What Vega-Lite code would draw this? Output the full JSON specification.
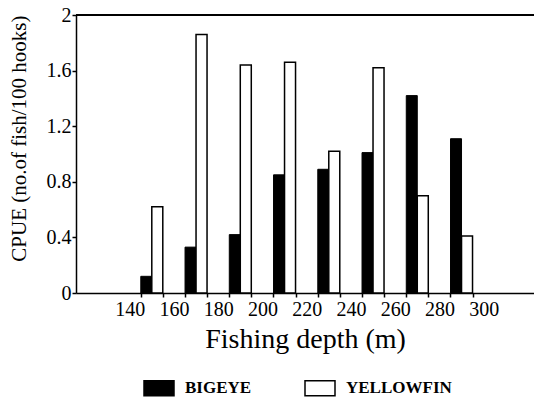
{
  "$schema": "https://vega.github.io/schema/vega-lite/v6.json",
  "width": 458,
  "height": 278,
  "autosize": {"type": "none"},
  "padding": {"left": 76, "top": 15, "right": 0, "bottom": 104},
  "background": "white",
  "config": {
    "view": {"stroke": null},
    "font": "Liberation Serif",
    "axis": {
      "domainColor": "black",
      "domainWidth": 1.5,
      "tickColor": "black",
      "tickWidth": 1.5,
      "grid": false,
      "labelColor": "black",
      "titleColor": "black",
      "labelFont": "Liberation Serif",
      "titleFont": "Liberation Serif",
      "titleFontWeight": "normal"
    }
  },
  "data": {
    "values": [
      {"depth": 150, "species": "BIGEYE", "cpue": 0.12},
      {"depth": 150, "species": "YELLOWFIN", "cpue": 0.62},
      {"depth": 170, "species": "BIGEYE", "cpue": 0.33},
      {"depth": 170, "species": "YELLOWFIN", "cpue": 1.86},
      {"depth": 190, "species": "BIGEYE", "cpue": 0.42},
      {"depth": 190, "species": "YELLOWFIN", "cpue": 1.64},
      {"depth": 210, "species": "BIGEYE", "cpue": 0.85},
      {"depth": 210, "species": "YELLOWFIN", "cpue": 1.66},
      {"depth": 230, "species": "BIGEYE", "cpue": 0.89},
      {"depth": 230, "species": "YELLOWFIN", "cpue": 1.02},
      {"depth": 250, "species": "BIGEYE", "cpue": 1.01},
      {"depth": 250, "species": "YELLOWFIN", "cpue": 1.62},
      {"depth": 270, "species": "BIGEYE", "cpue": 1.42},
      {"depth": 270, "species": "YELLOWFIN", "cpue": 0.70},
      {"depth": 290, "species": "BIGEYE", "cpue": 1.11},
      {"depth": 290, "species": "YELLOWFIN", "cpue": 0.41}
    ]
  },
  "layer": [
    {
      "encoding": {
        "x": {
          "field": "depth",
          "type": "quantitative",
          "scale": {"domain": [118, 320.5], "nice": false, "zero": false},
          "axis": {
            "title": "Fishing depth (m)",
            "titleFont": "Liberation Serif",
            "titleFontSize": 28,
            "titlePadding": 6,
            "labelFont": "Liberation Serif",
            "labelFontSize": 20,
            "labelPadding": 2,
            "tickSize": 4,
            "labelOverlap": false,
            "labelFlush": false,
            "values": [140,145,155,160,165,175,180,185,195,200,205,215,220,225,235,240,245,255,260,265,275,280,285,295,300],
            "labelExpr": "datum.value % 20 == 0 ? datum.label : ''",
            "tickOpacity": {"condition": {"test": "datum.value % 10 == 0", "value": 0}, "value": 1}
          }
        },
        "y": {
          "field": "cpue",
          "type": "quantitative",
          "scale": {"domain": [0, 2], "nice": false},
          "axis": {
            "title": "CPUE (no.of fish/100 hooks)",
            "titleFont": "Liberation Serif",
            "titleFontSize": 21,
            "titleAnchor": "end",
            "titlePadding": 17,
            "labelFont": "Liberation Serif",
            "labelFontSize": 20,
            "labelPadding": 1,
            "tickSize": 4,
            "format": "~g",
            "labelOverlap": false,
            "values": [0, 0.2, 0.4, 0.6, 0.8, 1, 1.2, 1.4, 1.6, 1.8, 2],
            "labelExpr": "round(datum.value * 10) % 4 == 0 ? datum.label : ''"
          }
        },
        "fill": {
          "field": "species",
          "type": "nominal",
          "scale": {"domain": ["BIGEYE", "YELLOWFIN"], "range": ["black", "white"]},
          "legend": {
            "title": null,
            "orient": "none",
            "legendX": 67,
            "legendY": 357,
            "direction": "horizontal",
            "symbolType": "M-1,-0.5H1V0.5H-1Z",
            "symbolSize": 900,
            "symbolStrokeColor": "black",
            "symbolStrokeWidth": 1.5,
            "labelFont": "Liberation Serif",
            "labelFontSize": 17,
            "labelFontWeight": "bold",
            "labelColor": "black",
            "labelOffset": 10,
            "columnPadding": 50
          }
        }
      },
      "layer": [
        {
          "transform": [{"filter": "datum.species == 'BIGEYE'"}],
          "mark": {"type": "bar", "width": 11, "xOffset": -5.5, "stroke": "black", "strokeWidth": 1}
        },
        {
          "transform": [{"filter": "datum.species == 'YELLOWFIN'"}],
          "mark": {"type": "bar", "width": 11, "xOffset": 5.5, "stroke": "black", "strokeWidth": 1.5}
        }
      ]
    },
    {
      "mark": {"type": "rule", "color": "black", "strokeWidth": 1.5},
      "encoding": {"y": {"datum": 2}}
    }
  ]
}
